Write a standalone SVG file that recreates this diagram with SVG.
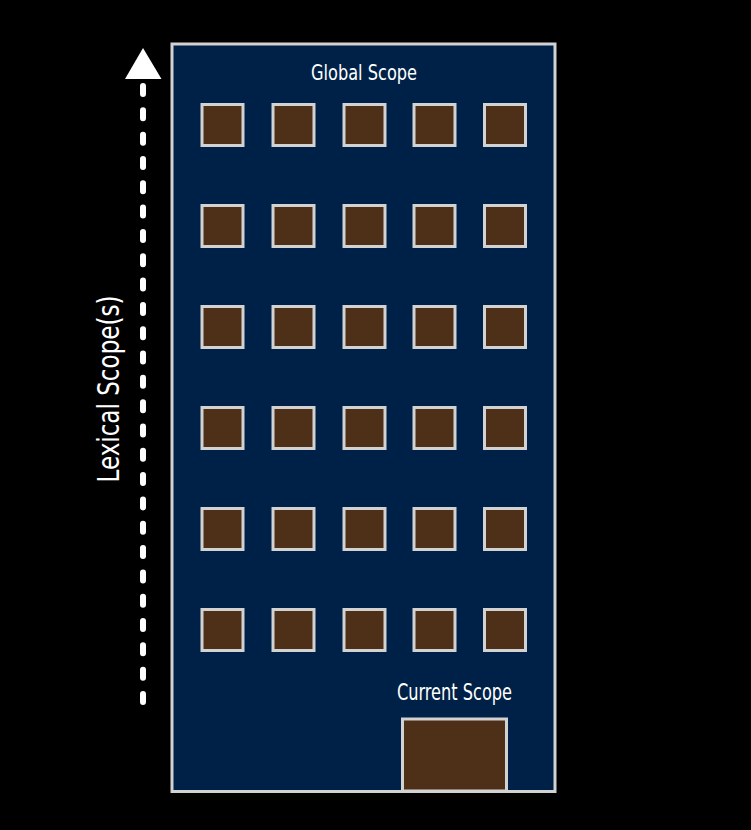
<svg xmlns="http://www.w3.org/2000/svg" width="751" height="830" viewBox="0 0 751 830">
<style>
.win{fill:#4e2f18;stroke:#d2d2d2;stroke-width:3}
.lbl{fill:#ffffff;font-family:"Liberation Sans Narrow","DejaVu Sans Condensed","Liberation Sans",sans-serif;font-stretch:condensed}
</style>
<defs>
<rect id="w" class="win" width="41" height="41"/>
</defs>
<rect x="0" y="0" width="751" height="830" fill="#000000"/>
<g id="building">
<rect x="172" y="44" width="383" height="747.5" fill="#002147" stroke="#d2d2d2" stroke-width="3"/>
<text class="lbl" x="364" y="80" font-size="21.5" text-anchor="middle" textLength="106" lengthAdjust="spacingAndGlyphs">Global Scope</text>
</g>
<g id="windows">
<use href="#w" x="202" y="104.5"/><use href="#w" x="273" y="104.5"/><use href="#w" x="344" y="104.5"/><use href="#w" x="414" y="104.5"/><use href="#w" x="484.5" y="104.5"/>
<use href="#w" x="202" y="205.5"/><use href="#w" x="273" y="205.5"/><use href="#w" x="344" y="205.5"/><use href="#w" x="414" y="205.5"/><use href="#w" x="484.5" y="205.5"/>
<use href="#w" x="202" y="306.5"/><use href="#w" x="273" y="306.5"/><use href="#w" x="344" y="306.5"/><use href="#w" x="414" y="306.5"/><use href="#w" x="484.5" y="306.5"/>
<use href="#w" x="202" y="407.5"/><use href="#w" x="273" y="407.5"/><use href="#w" x="344" y="407.5"/><use href="#w" x="414" y="407.5"/><use href="#w" x="484.5" y="407.5"/>
<use href="#w" x="202" y="508.5"/><use href="#w" x="273" y="508.5"/><use href="#w" x="344" y="508.5"/><use href="#w" x="414" y="508.5"/><use href="#w" x="484.5" y="508.5"/>
<use href="#w" x="202" y="609.5"/><use href="#w" x="273" y="609.5"/><use href="#w" x="344" y="609.5"/><use href="#w" x="414" y="609.5"/><use href="#w" x="484.5" y="609.5"/>
</g>
<g id="current-scope">
<rect x="402.5" y="719" width="104" height="72" fill="#4e2f18" stroke="#d2d2d2" stroke-width="3"/>
<text class="lbl" x="454.5" y="699.5" font-size="22.5" text-anchor="middle" textLength="115" lengthAdjust="spacingAndGlyphs">Current Scope</text>
</g>
<g id="connectors">
<line x1="143" y1="702" x2="143" y2="86" stroke="#ffffff" stroke-width="6" stroke-linecap="round" stroke-dasharray="8 16.32"/>
<polygon points="143,48 125,79 161.5,79" fill="#ffffff"/>
</g>
<g id="lexical-label">
<text class="lbl" transform="translate(119,389) rotate(-90)" x="0" y="0" font-size="31" text-anchor="middle" textLength="187" lengthAdjust="spacingAndGlyphs">Lexical Scope(s)</text>
</g>
</svg>
